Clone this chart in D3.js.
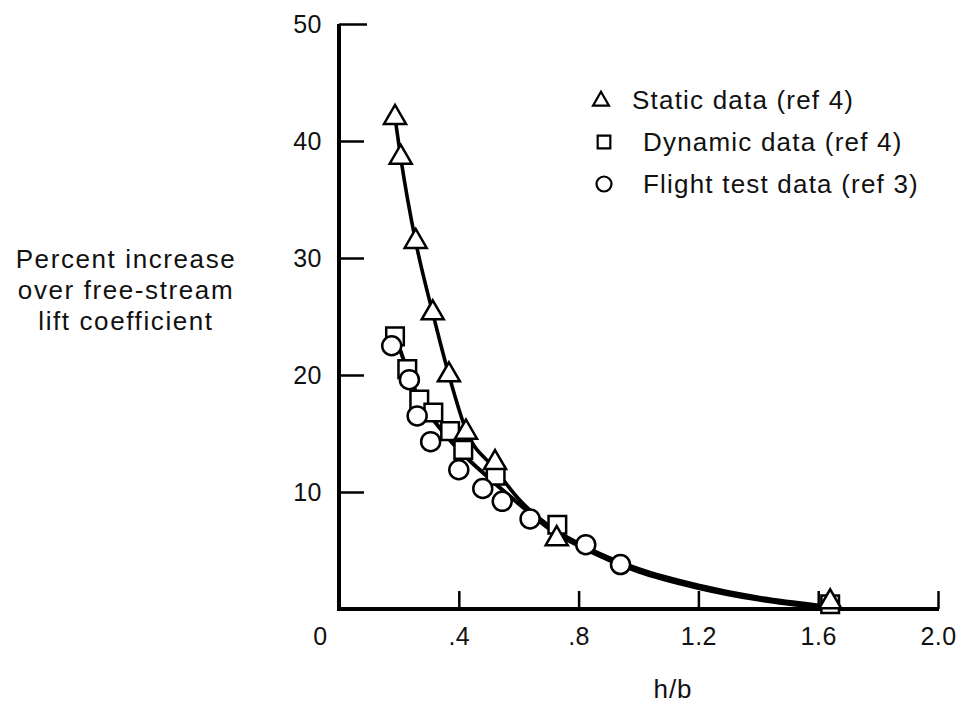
<!DOCTYPE html>
<html>
<head>
<meta charset="utf-8">
<script src="https://cdnjs.cloudflare.com/ajax/libs/d3/7.8.5/d3.min.js"></script>
<style>
  body { margin: 0; background: #fff; }
  svg text { font-family: "Liberation Sans", Arial, sans-serif; fill: #111; }
</style>
</head>
<body>
<div id="chart"></div>
<script>
  var width = 971;
  var height = 708;

// h/b values and percent increase
var staticX = [0.187, 0.206, 0.256, 0.313, 0.367, 0.424, 0.521, 0.727, 1.64];
var staticY = [42.0, 38.6, 31.4, 25.3, 20.0, 15.1, 12.5, 6.0, 0.6];

var dynamicX = [0.187, 0.228, 0.268, 0.315, 0.371, 0.415, 0.523, 0.729, 1.64];
var dynamicY = [23.3, 20.5, 17.9, 16.8, 15.2, 13.6, 11.4, 7.2, 0.4];

var flightX = [0.176, 0.235, 0.261, 0.306, 0.400, 0.480, 0.545, 0.638, 0.824, 0.940];
var flightY = [22.5, 19.6, 16.5, 14.3, 11.9, 10.3, 9.2, 7.7, 5.5, 3.8];

// faired curves drawn through the data
var staticCurveX = [0.187, 0.206, 0.256, 0.313, 0.367, 0.424, 0.52, 0.6, 0.7, 0.8, 0.9, 1.0, 1.2, 1.4, 1.6];
var staticCurveY = [42.0, 38.6, 31.4, 25.3, 20.0, 15.3, 12.0, 9.4, 7.15, 5.62, 4.42, 3.44, 2.03, 1.0, 0.32];
var flightCurveX = [0.19, 0.23, 0.27, 0.32, 0.4, 0.5, 0.6, 0.7, 0.8, 0.9, 1.0, 1.2, 1.4, 1.6];
var flightCurveY = [23.2, 20.3, 17.8, 16.0, 13.6, 11.2, 9.0, 6.9, 5.4, 4.2, 3.2, 1.8, 0.8, 0.15];

var xTicks = [0, 0.4, 0.8, 1.2, 1.6, 2.0];
var xTickLabels = ["0", ".4", ".8", "1.2", "1.6", "2.0"];
var yTicks = [10, 20, 30, 40, 50];
var yTickLabels = ["10", "20", "30", "40", "50"];

var legendLabels = ["Static data (ref 4)", "Dynamic data (ref 4)", "Flight test data (ref 3)"];
var yLabelLines = ["Percent increase", "over free-stream", "lift coefficient"];
var xLabel = "h/b";

var zip = function(xs, ys){ return xs.map(function(x, i){ return [x, ys[i]]; }); };

var draw_chart = function(){

  var x = d3.scaleLinear().domain([0, 2]).range([339, 938]);
  var y = d3.scaleLinear().domain([0, 50]).range([609, 24]);

  var svg = d3.select("#chart").append("svg")
    .attr("width", width)
    .attr("height", height)
    .attr("viewBox", "0 0 " + width + " " + height);

  // axes, ticks pointing into the plot
  var xAxis = d3.axisBottom(x)
    .tickValues(xTicks)
    .tickSizeInner(-18)
    .tickSizeOuter(0)
    .tickPadding(18)
    .tickFormat(function(d, i){ return xTickLabels[i]; });

  var yAxis = d3.axisLeft(y)
    .tickValues(yTicks)
    .tickSizeInner(-25)
    .tickSizeOuter(0)
    .tickPadding(17)
    .tickFormat(function(d, i){ return yTickLabels[i]; });

  var gx = svg.append("g")
    .attr("transform", "translate(0," + y(0) + ")")
    .call(xAxis);
  var gy = svg.append("g")
    .attr("transform", "translate(" + x(0) + ",0)")
    .call(yAxis);

  [gx, gy].forEach(function(g){
    g.select(".domain").attr("stroke", "#000").attr("stroke-width", 4);
    g.selectAll(".tick line").attr("stroke", "#000").attr("stroke-width", 2.5);
    g.selectAll(".tick text")
      .attr("fill", "#111")
      .attr("font-size", "25px")
      .attr("letter-spacing", "0.5px")
      .attr("font-family", "Liberation Sans, Arial, sans-serif");
  });
  // the origin label sits left of the y axis, no tick mark there
  gx.selectAll(".tick").filter(function(d){ return d === 0; })
    .select("line").remove();
  gx.selectAll(".tick").filter(function(d){ return d === 0; })
    .select("text").attr("x", -19);
  gy.selectAll(".tick").filter(function(d){ return d === 50; })
    .select("line").attr("x2", 28);
  gy.select(".domain").attr("d", "M0," + y(50) + "V" + (y(0) + 2));
  gx.select(".domain").attr("d", "M" + (x(0) - 2) + ",0H" + (x(2) + 1));

  // curves (they run together past h/b = .8 into one heavy line)
  var line = d3.line()
    .x(function(d){ return x(d[0]); })
    .y(function(d){ return y(d[1]); })
    .curve(d3.curveMonotoneX);

  svg.append("path")
    .datum(zip(flightCurveX, flightCurveY))
    .attr("d", line)
    .attr("fill", "none")
    .attr("stroke", "#000")
    .attr("stroke-width", 4);

  svg.append("path")
    .datum(zip(staticCurveX, staticCurveY))
    .attr("d", line)
    .attr("fill", "none")
    .attr("stroke", "#000")
    .attr("stroke-width", 3.6);

  // markers
  var square = d3.symbol().type(d3.symbolSquare).size(310);
  var triangle = d3.symbol().type(d3.symbolTriangle).size(210);

  svg.append("g").selectAll("path")
    .data(zip(dynamicX, dynamicY))
    .enter()
    .append("path")
    .attr("d", square)
    .attr("transform", function(d){ return "translate(" + x(d[0]) + "," + y(d[1]) + ")"; })
    .attr("fill", "#fff")
    .attr("stroke", "#000")
    .attr("stroke-width", 2.5);

  svg.append("g").selectAll("circle")
    .data(zip(flightX, flightY))
    .enter()
    .append("circle")
    .attr("cx", function(d){ return x(d[0]); })
    .attr("cy", function(d){ return y(d[1]); })
    .attr("r", 9.5)
    .attr("fill", "#fff")
    .attr("stroke", "#000")
    .attr("stroke-width", 2.5);

  svg.append("g").selectAll("path")
    .data(zip(staticX, staticY))
    .enter()
    .append("path")
    .attr("d", triangle)
    .attr("transform", function(d){ return "translate(" + x(d[0]) + "," + y(d[1]) + ")"; })
    .attr("fill", "#fff")
    .attr("stroke", "#000")
    .attr("stroke-width", 2.5);

  // legend
  var legend = svg.append("g");
  var legendY = [100, 142, 184];
  var legendTextX = [632, 643, 643];

  legend.append("path")
    .attr("d", d3.symbol().type(d3.symbolTriangle).size(110))
    .attr("transform", "translate(601," + (legendY[0] + 1) + ")")
    .attr("fill", "#fff").attr("stroke", "#000").attr("stroke-width", 2.2);
  legend.append("path")
    .attr("d", d3.symbol().type(d3.symbolSquare).size(160))
    .attr("transform", "translate(604," + legendY[1] + ")")
    .attr("fill", "#fff").attr("stroke", "#000").attr("stroke-width", 2.2);
  legend.append("circle")
    .attr("cx", 604).attr("cy", legendY[2]).attr("r", 7.5)
    .attr("fill", "#fff").attr("stroke", "#000").attr("stroke-width", 2.2);

  legend.selectAll("text")
    .data(legendLabels)
    .enter()
    .append("text")
    .attr("x", function(d, i){ return legendTextX[i]; })
    .attr("y", function(d, i){ return legendY[i] + 9; })
    .attr("font-size", "26px")
    .attr("letter-spacing", "1.2px")
    .text(function(d){ return d; });

  // axis titles
  svg.append("text")
    .attr("text-anchor", "middle")
    .attr("font-size", "26px")
    .attr("letter-spacing", "1.6px")
    .selectAll("tspan")
    .data(yLabelLines)
    .enter()
    .append("tspan")
    .attr("x", 126)
    .attr("y", function(d, i){ return 268 + i * 31; })
    .text(function(d){ return d; });

  svg.append("text")
    .attr("x", 673)
    .attr("y", 698)
    .attr("text-anchor", "middle")
    .attr("font-size", "26px")
    .attr("letter-spacing", "1px")
    .text(xLabel);
};

draw_chart();
</script>
</body>
</html>
